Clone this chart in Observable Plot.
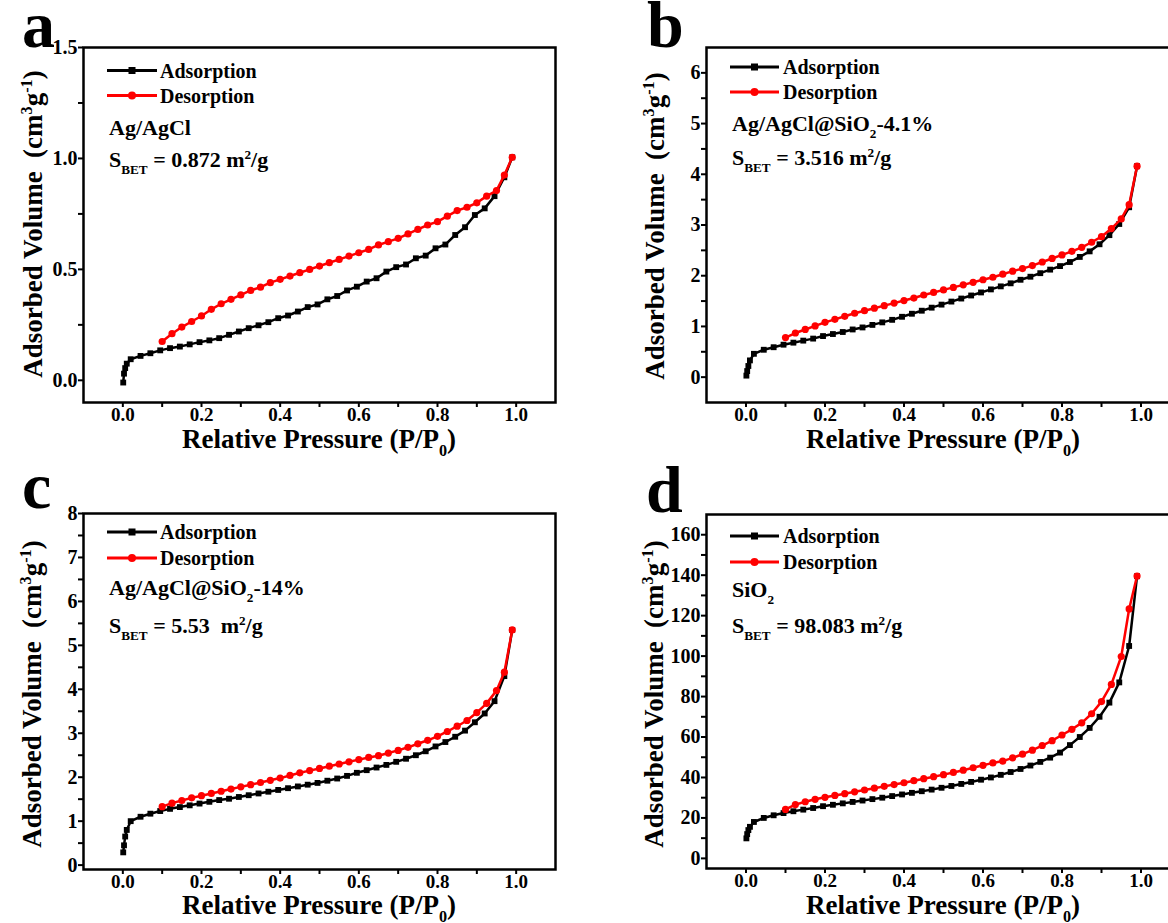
<!DOCTYPE html>
<html><head><meta charset="utf-8">
<script src="https://cdn.jsdelivr.net/npm/d3@7"></script>
<script src="https://cdn.jsdelivr.net/npm/@observablehq/plot@0.6"></script>
<style>
html,body{margin:0;padding:0;background:#fff;}
#page{position:relative;width:1168px;height:923px;overflow:hidden;background:#fff;font-family:"Liberation Serif","Times New Roman",serif;font-weight:bold;}
.panel{position:absolute;}
#overlay{position:absolute;left:0;top:0;pointer-events:none;}
#page svg text{font-family:"Liberation Serif","Times New Roman",serif !important;font-weight:bold;}
</style></head><body><div id="page"></div>
<script>
// ---------- data ----------
const P_ADS = [0.001, 0.003, 0.006, 0.01, 0.02, 0.045, 0.07, 0.095, 0.12, 0.145, 0.17, 0.195, 0.22, 0.245, 0.27, 0.295, 0.32, 0.345, 0.37, 0.395, 0.42, 0.445, 0.47, 0.495, 0.52, 0.545, 0.57, 0.595, 0.62, 0.645, 0.67, 0.695, 0.72, 0.745, 0.77, 0.795, 0.82, 0.845, 0.87, 0.895, 0.92, 0.945, 0.97, 0.99];
const P_DES = [0.99, 0.97, 0.95, 0.925, 0.9, 0.875, 0.85, 0.825, 0.8, 0.775, 0.75, 0.725, 0.7, 0.675, 0.65, 0.625, 0.6, 0.575, 0.55, 0.525, 0.5, 0.475, 0.45, 0.425, 0.4, 0.375, 0.35, 0.325, 0.3, 0.275, 0.25, 0.225, 0.2, 0.175, 0.15, 0.125, 0.1];

const ADS_A = [-0.01, 0.03, 0.055, 0.075, 0.095, 0.11, 0.122, 0.135, 0.145, 0.152, 0.162, 0.172, 0.18, 0.19, 0.205, 0.22, 0.235, 0.248, 0.262, 0.28, 0.292, 0.31, 0.33, 0.342, 0.365, 0.38, 0.405, 0.422, 0.445, 0.46, 0.49, 0.51, 0.522, 0.55, 0.562, 0.595, 0.612, 0.655, 0.69, 0.745, 0.775, 0.83, 0.915, 1.005];
const DES_A = [1.005, 0.925, 0.855, 0.83, 0.8, 0.78, 0.765, 0.74, 0.715, 0.7, 0.68, 0.66, 0.64, 0.625, 0.61, 0.59, 0.575, 0.56, 0.545, 0.53, 0.515, 0.5, 0.485, 0.47, 0.455, 0.44, 0.42, 0.405, 0.385, 0.365, 0.345, 0.32, 0.29, 0.265, 0.24, 0.21, 0.175];

const ADS_B = [0.03, 0.12, 0.22, 0.33, 0.46, 0.54, 0.59, 0.64, 0.68, 0.72, 0.76, 0.81, 0.85, 0.89, 0.94, 0.98, 1.03, 1.08, 1.13, 1.19, 1.25, 1.31, 1.37, 1.43, 1.49, 1.55, 1.61, 1.67, 1.73, 1.79, 1.85, 1.92, 1.98, 2.05, 2.12, 2.19, 2.27, 2.37, 2.48, 2.62, 2.8, 3.02, 3.35, 4.16];
const DES_B = [4.16, 3.4, 3.12, 2.93, 2.77, 2.66, 2.56, 2.48, 2.41, 2.34, 2.27, 2.2, 2.14, 2.09, 2.03, 1.97, 1.92, 1.87, 1.82, 1.77, 1.72, 1.67, 1.62, 1.56, 1.51, 1.46, 1.41, 1.36, 1.31, 1.26, 1.2, 1.14, 1.08, 1.01, 0.94, 0.87, 0.78];

const ADS_C = [0.29, 0.45, 0.65, 0.8, 1.0, 1.1, 1.17, 1.23, 1.28, 1.32, 1.36, 1.4, 1.44, 1.48, 1.51, 1.55, 1.59, 1.63, 1.67, 1.71, 1.75, 1.79, 1.83, 1.87, 1.92, 1.97, 2.03, 2.1, 2.16, 2.22, 2.28, 2.35, 2.42, 2.5, 2.59, 2.7, 2.8, 2.92, 3.06, 3.25, 3.45, 3.73, 4.3, 5.35];
const DES_C = [5.35, 4.39, 3.97, 3.68, 3.47, 3.29, 3.16, 3.04, 2.93, 2.84, 2.76, 2.68, 2.61, 2.55, 2.49, 2.45, 2.4, 2.35, 2.3, 2.25, 2.2, 2.15, 2.1, 2.04, 1.98, 1.93, 1.88, 1.83, 1.78, 1.73, 1.68, 1.63, 1.58, 1.53, 1.47, 1.41, 1.33];

const ADS_D = [9.9, 12, 14, 15.6, 18, 20, 21.3, 22.4, 23.3, 24.1, 24.9, 25.8, 26.5, 27.2, 27.9, 28.6, 29.3, 30.0, 30.8, 31.6, 32.4, 33.2, 34.0, 34.9, 35.8, 36.8, 37.8, 38.9, 40.0, 41.3, 42.7, 44.2, 45.9, 47.7, 49.8, 52.3, 56, 60, 64.5, 70, 77, 87, 105, 139.5];
const DES_D = [139.6, 123.3, 99.8, 86, 77.5, 71.5, 67, 63.8, 61, 58.2, 55.8, 53.5, 51.5, 49.7, 48.1, 47.2, 46.0, 44.8, 43.6, 42.5, 41.4, 40.4, 39.4, 38.4, 37.4, 36.5, 35.6, 34.7, 33.8, 32.9, 32.0, 31.1, 30.2, 29.2, 28.0, 26.6, 24.2];

const X_TICKS = [0, 0.2, 0.4, 0.6, 0.8, 1.0];
const X_MINOR = [0.1, 0.3, 0.5, 0.7, 0.9];
const Y_TICKS_A = [0, 0.5, 1.0, 1.5], Y_MINOR_A = [0.25, 0.75, 1.25];
const Y_TICKS_B = [0, 1, 2, 3, 4, 5, 6], Y_MINOR_B = [0.5, 1.5, 2.5, 3.5, 4.5, 5.5];
const Y_TICKS_C = [0, 1, 2, 3, 4, 5, 6, 7, 8], Y_MINOR_C = [0.5, 1.5, 2.5, 3.5, 4.5, 5.5, 6.5, 7.5];
const Y_TICKS_D = [0, 20, 40, 60, 80, 100, 120, 140, 160], Y_MINOR_D = [10, 30, 50, 70, 90, 110, 130, 150];

const LETTERS = ["a", "b", "c", "d"];
const SERIES_NAMES = ["Adsorption", "Desorption"];
const SAMPLES = [
  [{t: "Ag/AgCl"}],
  [{t: "Ag/AgCl@SiO"}, {t: "2", sub: true}, {t: "-4.1%"}],
  [{t: "Ag/AgCl@SiO"}, {t: "2", sub: true}, {t: "-14%"}],
  [{t: "SiO"}, {t: "2", sub: true}]
];
const SBET = ["0.872 ", "3.516 ", "5.53  ", "98.083 "];
const X_TITLE = [{t: "Relative Pressure (P/P"}, {t: "0", sub: true}, {t: ")"}];
const Y_TITLE = [{t: "Adsorbed Volume  (cm"}, {t: "3", sup: true}, {t: "g"}, {t: "-1", sup: true}, {t: ")"}];

// ---------- layout ----------
const FONT = "Liberation Serif, Times New Roman, serif";
const RED = "#ff0000";
const PANELS = [
  {ads: ADS_A, des: DES_A, yd: [-0.1, 1.5], yt: Y_TICKS_A, ym: Y_MINOR_A, yf: d3.format(".1f"),
   left: 0, top: 0, width: 584, height: 460, ml: 83, mr: 29, mt: 47, mb: 58,
   letter: [22, 47], leg: [107, 157, 70.5, 95.5, 160], sample: [109, 135], sbet: [109, 167], xt: [319, 448], ytt: [42, 224]},
  {ads: ADS_B, des: DES_B, yd: [-0.5, 6.5], yt: Y_TICKS_B, ym: Y_MINOR_B, yf: d3.format("d"),
   left: 584, top: 0, width: 620, height: 460, ml: 122, mr: 24, mt: 47, mb: 58,
   letter: [647, 47], leg: [730, 779, 67, 92, 783], sample: [732, 131], sbet: [732, 165], xt: [943, 448], ytt: [664, 226]},
  {ads: ADS_C, des: DES_C, yd: [-0.1, 8], yt: Y_TICKS_C, ym: Y_MINOR_C, yf: d3.format("d"),
   left: 0, top: 460, width: 584, height: 463, ml: 83, mr: 29, mt: 53, mb: 54,
   letter: [22, 508], leg: [107, 157, 532, 558, 160], sample: [109, 595], sbet: [109, 633], xt: [319, 914], ytt: [41, 694]},
  {ads: ADS_D, des: DES_D, yd: [-5, 170], yt: Y_TICKS_D, ym: Y_MINOR_D, yf: d3.format("d"),
   left: 584, top: 460, width: 620, height: 463, ml: 122, mr: 24, mt: 54, mb: 55,
   letter: [646, 512], leg: [730, 779, 536, 562, 783], sample: [732, 597], sbet: [732, 633], xt: [943, 914], ytt: [663, 694]}
];

const page = document.getElementById("page");

PANELS.forEach(cfg => {
  const ads = P_ADS.map((p, i) => ({p, v: cfg.ads[i]}));
  const des = P_DES.map((p, i) => ({p, v: cfg.des[i]}));
  const chart = Plot.plot({
    width: cfg.width, height: cfg.height,
    marginLeft: cfg.ml, marginRight: cfg.mr, marginTop: cfg.mt, marginBottom: cfg.mb,
    x: {domain: [-0.1, 1.1], label: null},
    y: {domain: cfg.yd, label: null},
    style: {fontFamily: FONT, fontWeight: "bold", fontSize: "20px", color: "black", background: "transparent", overflow: "visible"},
    marks: [
      Plot.axisX({ticks: X_MINOR, tickSize: 5, strokeWidth: 2, tickFormat: () => ""}),
      Plot.axisX({ticks: X_TICKS, tickSize: 5, strokeWidth: 2, tickPadding: 0, tickFormat: d3.format(".1f"), fontSize: 19, fontWeight: "bold", fontFamily: FONT}),
      Plot.axisY({ticks: cfg.ym, tickSize: 5, strokeWidth: 2, tickFormat: () => ""}),
      Plot.axisY({ticks: cfg.yt, tickSize: 5, strokeWidth: 2, tickPadding: 1, tickFormat: cfg.yf, fontSize: 20, fontWeight: "bold", fontFamily: FONT}),
      Plot.line(ads, {x: "p", y: "v", stroke: "black", strokeWidth: 2.5}),
      Plot.dot(ads, {x: "p", y: "v", symbol: "square", fill: "black", r: 3.3}),
      Plot.line(des, {x: "p", y: "v", stroke: RED, strokeWidth: 2.5}),
      Plot.dot(des, {x: "p", y: "v", fill: RED, r: 3.6}),
      Plot.frame({stroke: "black", strokeWidth: 2.5})
    ]
  });
  chart.classList.add("panel");
  chart.style.left = cfg.left + "px";
  chart.style.top = cfg.top + "px";
  page.appendChild(chart);
});

// ---------- overlay text ----------
const ov = d3.select(page).append("svg").attr("id", "overlay")
  .attr("width", 1168).attr("height", 923)
  .attr("font-family", FONT).attr("font-weight", "bold");

function richText(sel, runs, size, x, y, anchor, transform) {
  const t = sel.append("text").attr("font-size", size).attr("fill", "black")
    .attr("font-family", FONT).attr("font-weight", "bold")
    .style("white-space", "pre").attr("text-anchor", anchor || "start");
  if (transform) t.attr("transform", transform); else t.attr("x", x).attr("y", y);
  let shift = 0;
  runs.forEach(r => {
    const target = r.sub ? size * 0.3 : r.sup ? -size * 0.38 : 0;
    const ts = t.append("tspan").text(r.t).attr("dy", target - shift);
    if (r.sub || r.sup) ts.attr("font-size", size * 0.6);
    shift = target;
  });
  return t;
}

PANELS.forEach((cfg, i) => {
  ov.append("text").attr("x", cfg.letter[0]).attr("y", cfg.letter[1])
    .attr("font-size", 66).attr("font-family", FONT).text(LETTERS[i]);
  const [x1, x2, y1, y2, tx] = cfg.leg;
  const xm = (x1 + x2) / 2;
  ov.append("line").attr("x1", x1).attr("x2", x2).attr("y1", y1).attr("y2", y1)
    .attr("stroke", "black").attr("stroke-width", 3);
  ov.append("rect").attr("x", xm - 3.5).attr("y", y1 - 3.5).attr("width", 7).attr("height", 7).attr("fill", "black");
  ov.append("line").attr("x1", x1).attr("x2", x2).attr("y1", y2).attr("y2", y2)
    .attr("stroke", RED).attr("stroke-width", 3);
  ov.append("circle").attr("cx", xm).attr("cy", y2).attr("r", 4).attr("fill", RED);
  richText(ov, [{t: SERIES_NAMES[0]}], 20, tx, y1 + 7);
  richText(ov, [{t: SERIES_NAMES[1]}], 20, tx, y2 + 7);
  richText(ov, SAMPLES[i], 22, cfg.sample[0], cfg.sample[1]);
  richText(ov, [{t: "S"}, {t: "BET", sub: true}, {t: " = " + SBET[i] + "m"}, {t: "2", sup: true}, {t: "/g"}], 22, cfg.sbet[0], cfg.sbet[1]);
  richText(ov, X_TITLE, 27, cfg.xt[0], cfg.xt[1], "middle");
  richText(ov, Y_TITLE, 27, 0, 0, "middle", `translate(${cfg.ytt[0]},${cfg.ytt[1]}) rotate(-90)`);
});
</script></body></html>
